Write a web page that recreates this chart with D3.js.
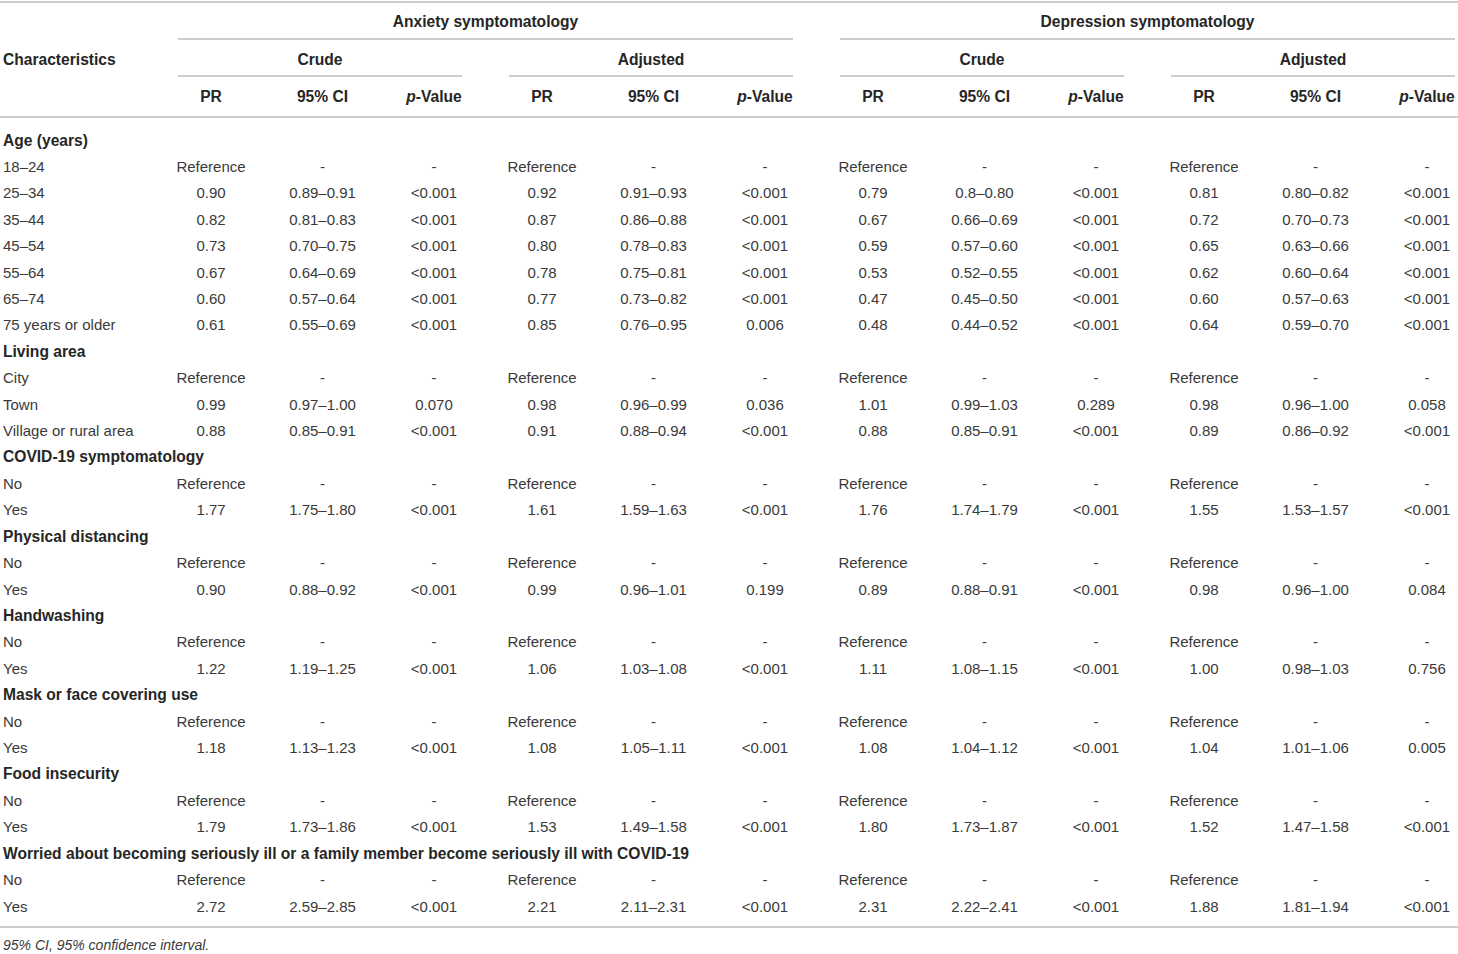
<!DOCTYPE html>
<html>
<head>
<meta charset="utf-8">
<script src="https://cdn.jsdelivr.net/npm/d3@7"></script>
<style>
  html, body { margin: 0; padding: 0; background: #fff; }
  svg { display: block; font-family: "Liberation Sans", Arial, Helvetica, sans-serif; }
</style>
</head>
<body>
<svg id="chart"></svg>
<script>
// Sections and their rows
const sections = [
  'Age (years)',
  'Living area',
  'COVID-19 symptomatology',
  'Physical distancing',
  'Handwashing',
  'Mask or face covering use',
  'Food insecurity',
  'Worried about becoming seriously ill or a family member become seriously ill with COVID-19'
];
const sectionRows = [
  ['18\u201324', '25\u201334', '35\u201344', '45\u201354', '55\u201364', '65\u201374', '75 years or older'],
  ['City', 'Town', 'Village or rural area'],
  ['No', 'Yes'],
  ['No', 'Yes'],
  ['No', 'Yes'],
  ['No', 'Yes'],
  ['No', 'Yes'],
  ['No', 'Yes']
];

const outcomes = ['Anxiety symptomatology', 'Depression symptomatology'];
const models = ['Crude', 'Adjusted'];
const subCols = ['PR', '95% CI', 'p-Value'];

// Values per column, one entry per data row (22 rows)
const anxCrudePR = ['Reference', '0.90', '0.82', '0.73', '0.67', '0.60', '0.61',
  'Reference', '0.99', '0.88', 'Reference', '1.77', 'Reference', '0.90',
  'Reference', '1.22', 'Reference', '1.18', 'Reference', '1.79', 'Reference', '2.72'];
const anxCrudeCI = ['-', '0.89\u20130.91', '0.81\u20130.83', '0.70\u20130.75', '0.64\u20130.69', '0.57\u20130.64', '0.55\u20130.69',
  '-', '0.97\u20131.00', '0.85\u20130.91', '-', '1.75\u20131.80', '-', '0.88\u20130.92',
  '-', '1.19\u20131.25', '-', '1.13\u20131.23', '-', '1.73\u20131.86', '-', '2.59\u20132.85'];
const anxCrudeP = ['-', '<0.001', '<0.001', '<0.001', '<0.001', '<0.001', '<0.001',
  '-', '0.070', '<0.001', '-', '<0.001', '-', '<0.001',
  '-', '<0.001', '-', '<0.001', '-', '<0.001', '-', '<0.001'];

const anxAdjPR = ['Reference', '0.92', '0.87', '0.80', '0.78', '0.77', '0.85',
  'Reference', '0.98', '0.91', 'Reference', '1.61', 'Reference', '0.99',
  'Reference', '1.06', 'Reference', '1.08', 'Reference', '1.53', 'Reference', '2.21'];
const anxAdjCI = ['-', '0.91\u20130.93', '0.86\u20130.88', '0.78\u20130.83', '0.75\u20130.81', '0.73\u20130.82', '0.76\u20130.95',
  '-', '0.96\u20130.99', '0.88\u20130.94', '-', '1.59\u20131.63', '-', '0.96\u20131.01',
  '-', '1.03\u20131.08', '-', '1.05\u20131.11', '-', '1.49\u20131.58', '-', '2.11\u20132.31'];
const anxAdjP = ['-', '<0.001', '<0.001', '<0.001', '<0.001', '<0.001', '0.006',
  '-', '0.036', '<0.001', '-', '<0.001', '-', '0.199',
  '-', '<0.001', '-', '<0.001', '-', '<0.001', '-', '<0.001'];

const depCrudePR = ['Reference', '0.79', '0.67', '0.59', '0.53', '0.47', '0.48',
  'Reference', '1.01', '0.88', 'Reference', '1.76', 'Reference', '0.89',
  'Reference', '1.11', 'Reference', '1.08', 'Reference', '1.80', 'Reference', '2.31'];
const depCrudeCI = ['-', '0.8\u20130.80', '0.66\u20130.69', '0.57\u20130.60', '0.52\u20130.55', '0.45\u20130.50', '0.44\u20130.52',
  '-', '0.99\u20131.03', '0.85\u20130.91', '-', '1.74\u20131.79', '-', '0.88\u20130.91',
  '-', '1.08\u20131.15', '-', '1.04\u20131.12', '-', '1.73\u20131.87', '-', '2.22\u20132.41'];
const depCrudeP = ['-', '<0.001', '<0.001', '<0.001', '<0.001', '<0.001', '<0.001',
  '-', '0.289', '<0.001', '-', '<0.001', '-', '<0.001',
  '-', '<0.001', '-', '<0.001', '-', '<0.001', '-', '<0.001'];

const depAdjPR = ['Reference', '0.81', '0.72', '0.65', '0.62', '0.60', '0.64',
  'Reference', '0.98', '0.89', 'Reference', '1.55', 'Reference', '0.98',
  'Reference', '1.00', 'Reference', '1.04', 'Reference', '1.52', 'Reference', '1.88'];
const depAdjCI = ['-', '0.80\u20130.82', '0.70\u20130.73', '0.63\u20130.66', '0.60\u20130.64', '0.57\u20130.63', '0.59\u20130.70',
  '-', '0.96\u20131.00', '0.86\u20130.92', '-', '1.53\u20131.57', '-', '0.96\u20131.00',
  '-', '0.98\u20131.03', '-', '1.01\u20131.06', '-', '1.47\u20131.58', '-', '1.81\u20131.94'];
const depAdjP = ['-', '<0.001', '<0.001', '<0.001', '<0.001', '<0.001', '<0.001',
  '-', '0.058', '<0.001', '-', '<0.001', '-', '0.084',
  '-', '0.756', '-', '0.005', '-', '<0.001', '-', '<0.001'];

const footnote = '95% CI, 95% confidence interval.';

// Column blocks in reading order (outcome x model)
const blocks = [
  [anxCrudePR, anxCrudeCI, anxCrudeP],
  [anxAdjPR, anxAdjCI, anxAdjP],
  [depCrudePR, depCrudeCI, depCrudeP],
  [depAdjPR, depAdjCI, depAdjP]
];

// Build flat row list
const rows = [];
let k = 0;
sections.forEach((s, si) => {
  rows.push({ label: s, header: true });
  sectionRows[si].forEach(lbl => {
    rows.push({ label: lbl, header: false, idx: k++ });
  });
});

const W = 1458, H = 954;
const svg = d3.select('#chart').attr('width', W).attr('height', H);

const TEXT = '#262626';
const BODY = '#3a3a3a';
const RULE = '#bdbdbd';
const FS = 15;     // body text
const FSB = 15.6;  // bold headers

// Scales
const blockX = d3.scaleBand()
  .domain(d3.range(blocks.length))
  .range([178, 1455])
  .paddingInner(0.142)
  .paddingOuter(0);
const subX = d3.scalePoint()
  .domain(subCols)
  .range([33, 256]);
const rowY = d3.scalePoint()
  .domain(d3.range(rows.length))
  .range([140, 906]);

function hline(x1, x2, y) {
  svg.append('line')
    .attr('x1', x1).attr('x2', x2).attr('y1', y).attr('y2', y)
    .attr('stroke', RULE).attr('stroke-width', 1.6);
}

// Rules
hline(0, W, 2);
hline(0, W, 117);
hline(0, W, 927);

// Outcome headers
outcomes.forEach((o, i) => {
  const x0 = blockX(i * 2), x1 = blockX(i * 2 + 1) + blockX.bandwidth();
  svg.append('text')
    .attr('x', (x0 + x1) / 2).attr('y', 21)
    .attr('text-anchor', 'middle').attr('dominant-baseline', 'central')
    .attr('font-size', FSB).attr('font-weight', 'bold').attr('fill', TEXT)
    .text(o);
  hline(x0, x1, 39);
});

// Model headers
blocks.forEach((b, bi) => {
  const x0 = blockX(bi), x1 = x0 + blockX.bandwidth();
  svg.append('text')
    .attr('x', (x0 + x1) / 2).attr('y', 59)
    .attr('text-anchor', 'middle').attr('dominant-baseline', 'central')
    .attr('font-size', FSB).attr('font-weight', 'bold').attr('fill', TEXT)
    .text(models[bi % 2]);
  hline(x0, x1, 76);

  subCols.forEach(c => {
    const t = svg.append('text')
      .attr('x', x0 + subX(c)).attr('y', 96)
      .attr('text-anchor', 'middle').attr('dominant-baseline', 'central')
      .attr('font-size', FSB).attr('font-weight', 'bold').attr('fill', TEXT);
    if (c === 'p-Value') {
      t.append('tspan').attr('font-style', 'italic').text('p');
      t.append('tspan').text('-Value');
    } else {
      t.text(c);
    }
  });
});

svg.append('text')
  .attr('x', 3).attr('y', 59)
  .attr('dominant-baseline', 'central')
  .attr('font-size', FSB).attr('font-weight', 'bold').attr('fill', TEXT)
  .text('Characteristics');

// Body rows
const rowG = svg.append('g').selectAll('g')
  .data(rows)
  .join('g')
  .attr('transform', (d, i) => `translate(0,${rowY(i)})`);

rowG.append('text')
  .attr('x', 3)
  .attr('dominant-baseline', 'central')
  .attr('font-size', d => d.header ? FSB : FS)
  .attr('font-weight', d => d.header ? 'bold' : 'normal')
  .attr('fill', d => d.header ? TEXT : BODY)
  .text(d => d.label);

rowG.filter(d => !d.header).each(function(d) {
  const g = d3.select(this);
  blocks.forEach((b, bi) => {
    b.forEach((col, ci) => {
      g.append('text')
        .attr('x', blockX(bi) + subX(subCols[ci]))
        .attr('text-anchor', 'middle')
        .attr('dominant-baseline', 'central')
        .attr('font-size', FS)
        .attr('fill', BODY)
        .text(col[d.idx]);
    });
  });
});

// Footnote
svg.append('text')
  .attr('x', 3).attr('y', 945)
  .attr('dominant-baseline', 'central')
  .attr('font-size', 14).attr('font-style', 'italic').attr('fill', BODY)
  .text(footnote);
</script>
</body>
</html>
